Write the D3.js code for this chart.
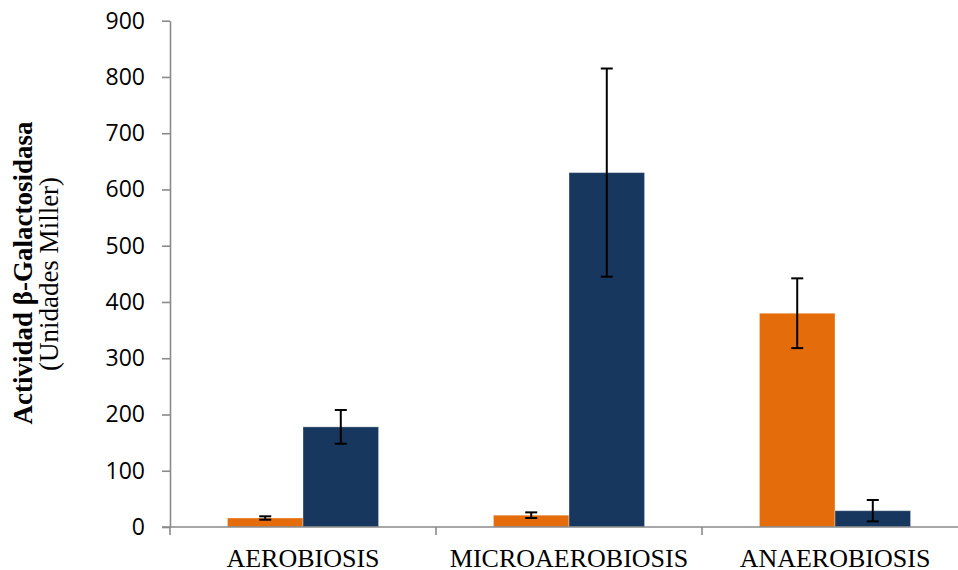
<!DOCTYPE html>
<html>
<head>
<meta charset="utf-8">
<script src="https://cdn.jsdelivr.net/npm/d3@7/dist/d3.min.js"></script>
<style>
  html, body { margin: 0; padding: 0; background: #fff; }
  svg { display: block; }
</style>
</head>
<body>
<svg id="chart" width="958" height="570"></svg>
<script>
// Beta-galactosidase activity (Miller units) per growth condition
const categories = ["AEROBIOSIS", "MICROAEROBIOSIS", "ANAEROBIOSIS"];
const seriesNames = ["s1", "s2"];
const seriesColors = ["#E46C0A", "#17375E"];
const valuesS1 = [16, 21, 380];
const errorsS1 = [3, 5, 62];
const valuesS2 = [178, 630, 29];
const errorsS2 = [30, 185, 19];
const yTicks = [0, 100, 200, 300, 400, 500, 600, 700, 800, 900];

const svg = d3.select("#chart");
const axisColor = "#8a8a8a";

const plotLeft = 170, plotRight = 968, plotTop = 20.7, plotBottom = 527;

const x = d3.scaleBand().domain(categories).range([plotLeft, plotRight]).padding(0);
const xSub = d3.scaleBand().domain(seriesNames)
  .range([0, x.bandwidth()]).paddingInner(0).paddingOuter(0.76);
const y = d3.scaleLinear().domain([0, 900]).range([plotBottom, plotTop]);

const rows = [];
categories.forEach((c, i) => {
  rows.push({ cat: c, s: "s1", v: valuesS1[i], e: errorsS1[i], color: seriesColors[0] });
  rows.push({ cat: c, s: "s2", v: valuesS2[i], e: errorsS2[i], color: seriesColors[1] });
});

// Bars
svg.append("g").selectAll("rect").data(rows).join("rect")
  .attr("x", d => x(d.cat) + xSub(d.s))
  .attr("y", d => y(d.v))
  .attr("width", xSub.bandwidth())
  .attr("height", d => y(0) - y(d.v))
  .attr("fill", d => d.color)
  .attr("stroke", "rgba(255,255,255,0.35)")
  .attr("stroke-width", 1);

// Y axis
const yAxis = d3.axisLeft(y).tickValues(yTicks).tickSize(8).tickPadding(17).tickSizeOuter(0);
const gy = svg.append("g").attr("transform", `translate(${plotLeft},0)`).call(yAxis);
gy.select(".domain").attr("stroke", axisColor).attr("stroke-width", 1.6);
gy.selectAll(".tick line").attr("stroke", axisColor).attr("stroke-width", 1.6);
gy.selectAll(".tick text")
  .attr("fill", "#000")
  .style("font-family", "'Open Sans', sans-serif")
  .style("font-size", "23px");

// X axis: baseline plus category boundary ticks
svg.append("line")
  .attr("x1", plotLeft - 8).attr("x2", 958)
  .attr("y1", y(0)).attr("y2", y(0))
  .attr("stroke", axisColor).attr("stroke-width", 1.6);
svg.append("g").selectAll("line").data(categories).join("line")
  .attr("x1", d => x(d)).attr("x2", d => x(d))
  .attr("y1", y(0)).attr("y2", y(0) + 8)
  .attr("stroke", axisColor).attr("stroke-width", 1.6);

// Category labels
svg.append("g").selectAll("text").data(categories).join("text")
  .attr("x", d => x(d) + x.bandwidth() / 2)
  .attr("y", 567)
  .attr("text-anchor", "middle")
  .style("font-family", "'Liberation Serif', 'Times New Roman', serif")
  .style("font-size", "26px")
  .attr("fill", "#000")
  .text(d => d);

// Error bars
const cap = 6;
const eb = svg.append("g").attr("stroke", "#000").attr("stroke-width", 2);
rows.forEach(d => {
  const cx = x(d.cat) + xSub(d.s) + xSub.bandwidth() / 2;
  const yHi = y(d.v + d.e), yLo = y(d.v - d.e);
  eb.append("line").attr("x1", cx).attr("x2", cx).attr("y1", yHi).attr("y2", yLo);
  eb.append("line").attr("x1", cx - cap).attr("x2", cx + cap).attr("y1", yHi).attr("y2", yHi);
  eb.append("line").attr("x1", cx - cap).attr("x2", cx + cap).attr("y1", yLo).attr("y2", yLo);
});

// Y axis title
const title = svg.append("g")
  .style("font-family", "'Liberation Serif', 'Times New Roman', serif")
  .style("font-size", "27px")
  .attr("fill", "#000");
title.append("text")
  .attr("transform", "translate(32,273) rotate(-90)")
  .attr("text-anchor", "middle")
  .style("font-weight", "bold")
  .text("Actividad β-Galactosidasa");
title.append("text")
  .attr("transform", "translate(58,274) rotate(-90)")
  .attr("text-anchor", "middle")
  .text("(Unidades Miller)");
</script>
</body>
</html>
